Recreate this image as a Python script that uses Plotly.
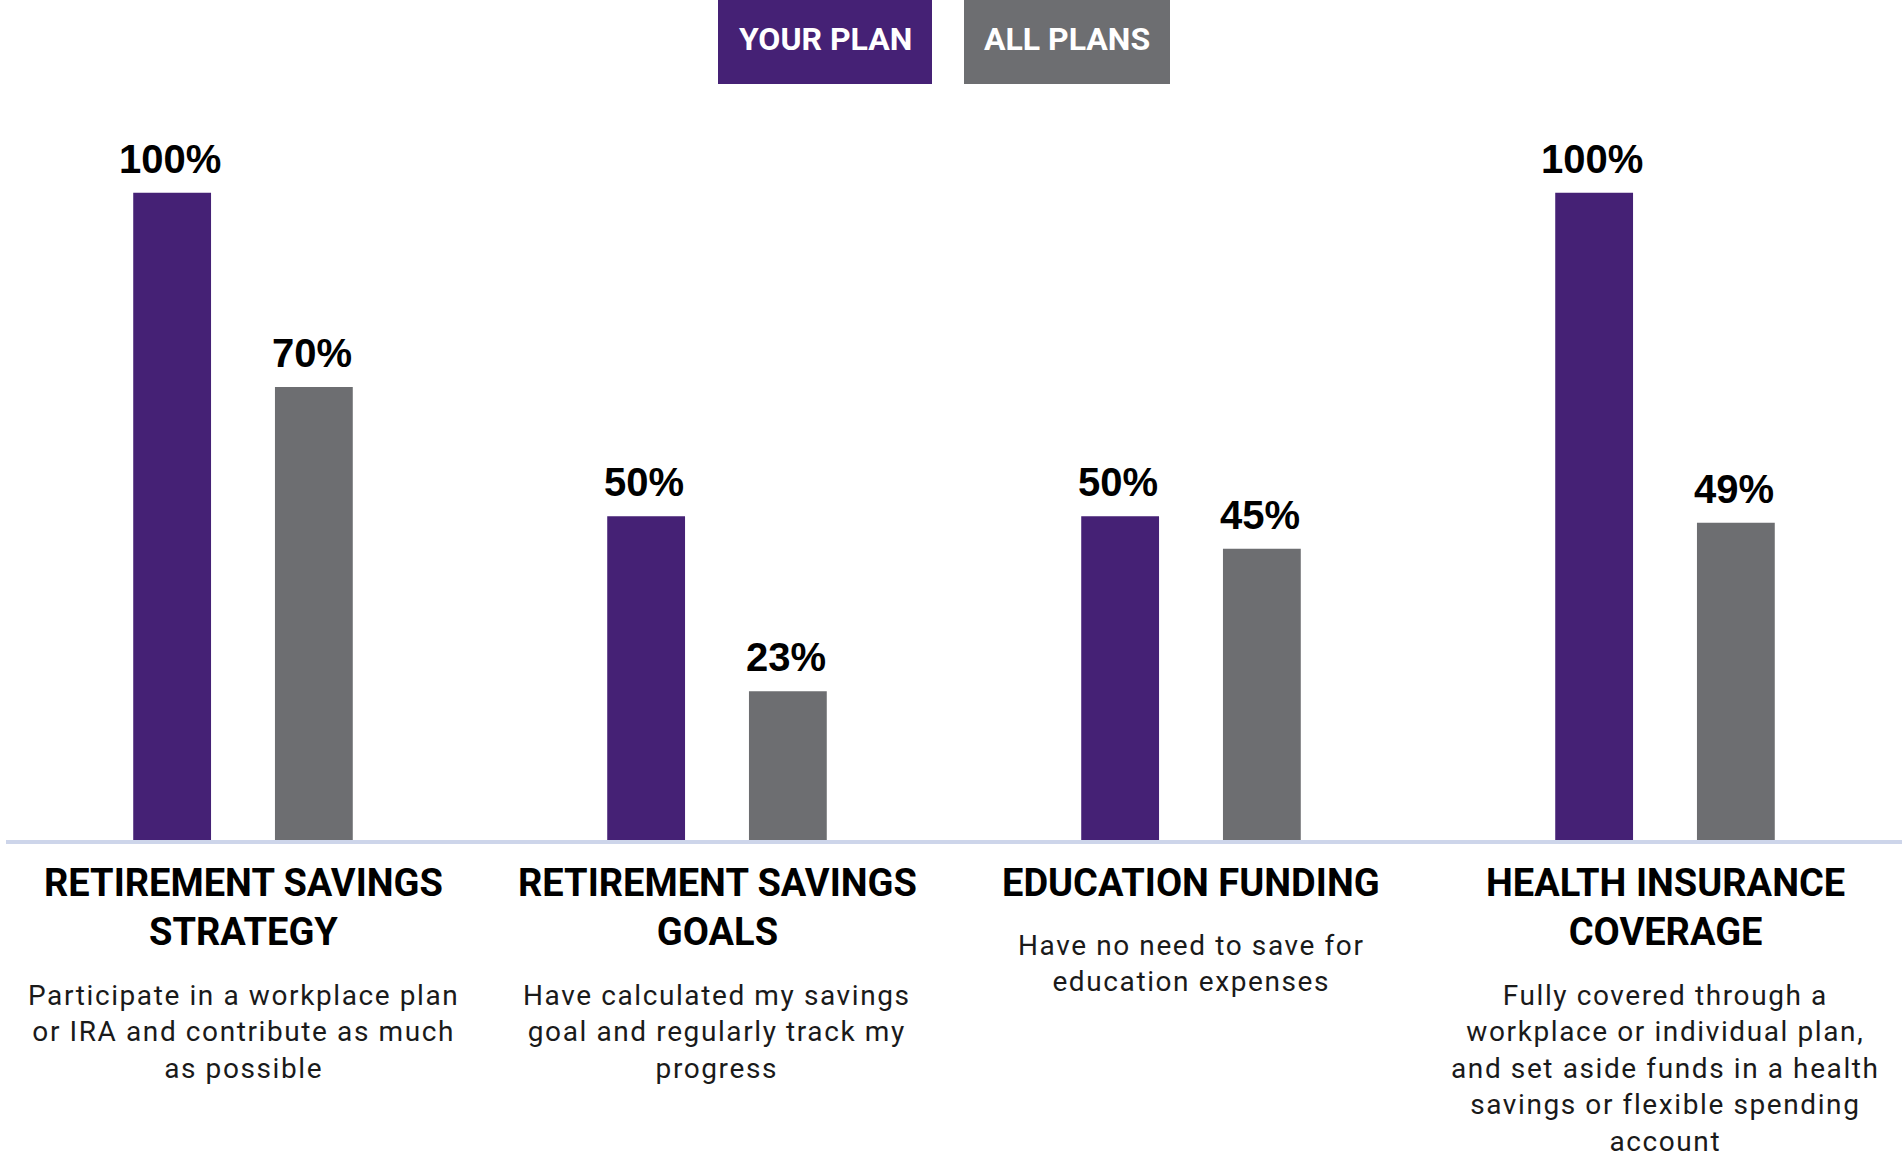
import plotly.graph_objects as go

# Survey categories (bold headings) and their explanatory notes
categories = [
    "RETIREMENT SAVINGS<br>STRATEGY",
    "RETIREMENT SAVINGS<br>GOALS",
    "EDUCATION FUNDING",
    "HEALTH INSURANCE<br>COVERAGE",
]
descriptions = [
    ["Participate in a workplace plan", "or IRA and contribute as much", "as possible"],
    ["Have calculated my savings", "goal and regularly track my", "progress"],
    ["Have no need to save for", "education expenses"],
    ["Fully covered through a", "workplace or individual plan,", "and set aside funds in a health",
     "savings or flexible spending", "account"],
]
series_names = ["YOUR PLAN", "ALL PLANS"]
your_plan = [100, 50, 50, 100]
all_plans = [70, 23, 45, 49]

PURPLE = "#452175"
GRAY = "#6d6e71"
AXIS = "#cdd5ea"

W, H = 1902, 1153
ML, MR, MT, MB = 6, 0, 128, 313
PLOT_H = H - MT - MB


def py(pix):
    """Convert a pixel row (from the top) to paper coordinates."""
    return (H - MB - pix) / PLOT_H


def px(pix):
    """Convert a pixel column to paper coordinates."""
    return (pix - ML) / (W - ML - MR)


xs = list(range(len(categories)))

BARGAP = 0.402
GROUPGAP = 0.451
slot = (1 - BARGAP) / 2
offsets = [-slot / 2, slot / 2]

fig = go.Figure()
for name, vals, col in zip(series_names, [your_plan, all_plans], [PURPLE, GRAY]):
    fig.add_trace(go.Bar(
        x=xs, y=vals, name=name, marker=dict(color=col, line=dict(width=0)),
        hoverinfo="skip", showlegend=False,
    ))

annotations = []
# value labels above each bar
for vals, off in zip([your_plan, all_plans], offsets):
    for i, v in enumerate(vals):
        annotations.append(dict(
            x=i + off, y=v, xref="x", yref="y", text=f"<b>{v}%</b>",
            showarrow=False, yanchor="bottom", xanchor="center", yshift=10, xshift=-2,
            font=dict(family="Liberation Sans", size=40, color="#000000"),
        ))

# headings and descriptions under the axis
HEAD_TOP = 859
for i, (cat, desc) in enumerate(zip(categories, descriptions)):
    n_head = cat.count("<br>") + 1
    annotations.append(dict(
        x=i, y=py(HEAD_TOP), xref="x", yref="paper", text=f"<b>{cat}</b>",
        showarrow=False, yanchor="top", xanchor="center",
        font=dict(family="Roboto", size=38, color="#000000"),
    ))
    body = "<br>".join(
        f'<span style="letter-spacing:1.6px">{line}</span>' for line in desc
    )
    annotations.append(dict(
        x=i, y=py(HEAD_TOP + 68 + (n_head - 1) * 50), xref="x", yref="paper",
        text=body, showarrow=False, yanchor="top", xanchor="center",
        font=dict(family="Roboto", size=28, color="#1a1a1a"),
    ))

# legend boxes at the top
shapes = []
legend_boxes = [(718, 932, PURPLE), (964, 1170, GRAY)]
for (x0, x1, col), name in zip(legend_boxes, series_names):
    shapes.append(dict(
        type="rect", xref="paper", yref="paper",
        x0=px(x0), x1=px(x1), y0=py(84), y1=py(0),
        fillcolor=col, line=dict(width=0), layer="above",
    ))
    annotations.append(dict(
        x=px((x0 + x1) / 2), y=py(39.5), xref="paper", yref="paper",
        text=f"<b>{name}</b>", showarrow=False, xanchor="center", yanchor="middle",
        font=dict(family="Roboto", size=32, color="#ffffff"),
    ))

fig.update_layout(
    width=W, height=H,
    margin=dict(l=ML, r=MR, t=MT, b=MB, pad=0),
    paper_bgcolor="#ffffff", plot_bgcolor="#ffffff",
    barmode="group", bargap=BARGAP, bargroupgap=GROUPGAP,
    xaxis=dict(
        range=[-0.5, len(categories) - 0.5], showticklabels=False, ticks="",
        showgrid=False, zeroline=False, showline=True, linecolor=AXIS, linewidth=4,
        fixedrange=True,
    ),
    yaxis=dict(
        range=[0, 110], showticklabels=False, ticks="", showgrid=False,
        zeroline=False, showline=False, fixedrange=True,
    ),
    annotations=annotations, shapes=shapes,
    showlegend=False,
)

fig.write_html("out.html", config={"displayModeBar": False})
